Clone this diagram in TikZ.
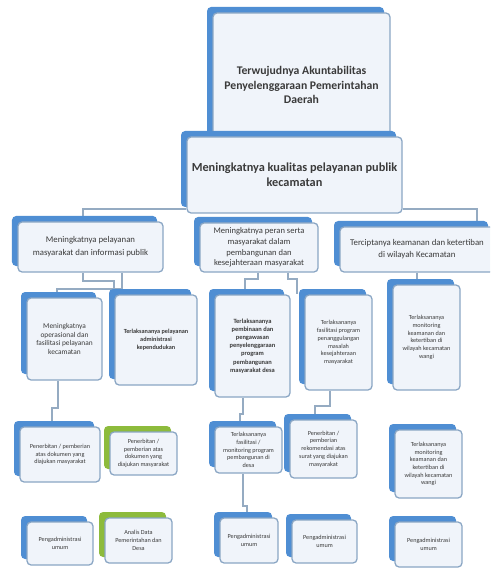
\documentclass[tikz,border=0pt]{standalone}
\usepackage{fontspec}
\setmainfont{Carlito}
\usetikzlibrary{positioning,shadows,backgrounds,calc}
\definecolor{backblue}{HTML}{4F8ED3}
\definecolor{backgreen}{HTML}{8DBB3C}
\definecolor{cardfill}{HTML}{F0F4FA}
\definecolor{cardline}{HTML}{8AA6C4}
\definecolor{linkgrey}{HTML}{95ABC2}
\definecolor{ink}{HTML}{3A3A3A}
\tikzset{
  face/.style={draw=cardline, line width=1.1pt, fill=cardfill, rounded corners=3.5pt, align=center, text=ink, inner sep=1pt},
  card/.style={face, general shadow={shadow xshift=-1.8mm, shadow yshift=1.8mm, fill=backblue}},
  gcard/.style={face, general shadow={shadow xshift=-1.8mm, shadow yshift=1.8mm, fill=backgreen}},
  wh/.style 2 args={minimum width=#1*0.03cm, minimum height=#2*0.03cm},
  big/.style={font=\fontsize{10}{12.5}\selectfont\bfseries},
  mid/.style={font=\fontsize{7.5}{10}\selectfont},
  tiny/.style={font=\fontsize{5.3}{6.6}\selectfont},
  tinyb/.style={font=\fontsize{5.3}{6.6}\selectfont\bfseries},
  conn/.style={draw=linkgrey, line width=1.6pt}
}

\begin{document}
\begin{tikzpicture}[x=0.03cm, y=-0.03cm]
\useasboundingbox (0,0) rectangle (490,570);
\clip (0,0) rectangle (490,570);
% goal
\node[card, wh={177}{144}, big] (top) at (301.5,85) {Terwujudnya Akuntabilitas\\Penyelenggaraan Pemerintahan\\Daerah};
\node[card, wh={215}{76}, big, font=\fontsize{10.5}{13}\selectfont\bfseries] (kual) at (294.5,175) {Meningkatnya kualitas pelayanan publik\\kecamatan};
% level 3
\node[card, wh={145}{50}, mid, font=\fontsize{7.5}{11}\selectfont] (l1) at (90.5,247) {Meningkatnya pelayanan\\masyarakat dan informasi publik};
\node[card, wh={118}{49}, mid, font=\fontsize{7.3}{9}\selectfont] (l2) at (259,247.5) {Meningkatnya peran serta\\masyarakat dalam\\pembangunan dan\\kesejahteraan masyarakat};
\node[card, wh={154}{45}, mid] (l3) at (417,249.5) {Terciptanya keamanan dan ketertiban\\di wilayah Kecamatan};
% level 4
\node[card, wh={75}{82}, font=\fontsize{6.3}{7.2}\selectfont] (a1) at (64.5,339) {Meningkatnya\\operasional dan\\fasilitasi pelayanan\\kecamatan};
\node[card, wh={82}{90}, tinyb] (a2) at (156,340) {Terlaksananya pelayanan\\administrasi\\kependudukan};
\node[card, wh={75}{102}, tinyb, font=\fontsize{5.5}{7}\selectfont\bfseries] (b1) at (252.5,346) {Terlaksananya\\pembinaan dan\\pengawasan\\penyelenggaraan\\program\\pembangunan\\masyarakat desa};
\node[card, wh={67}{95}, tiny] (b2) at (338.5,342.5) {Terlaksananya\\fasilitasi program\\penanggulangan\\masalah\\kesejahteraan\\masyarakat};
\node[card, wh={67}{105}, tiny] (c1) at (426.5,337.5) {Terlaksananya\\monitoring\\keamanan dan\\ketertiban di\\wilayah kecamatan\\wangi};
% level 5
\node[card, wh={80}{55}, tiny] (d1) at (60,454.5) {Penerbitan / pemberian\\atas dokumen yang\\diajukan masyarakat};
\node[gcard, wh={67}{43}, tiny] (d2) at (143.5,453.5) {Penerbitan /\\pemberian atas\\dokumen yang\\diajukan masyarakat};
\node[card, wh={67}{46}, tiny] (f1) at (248.5,450) {Terlaksananya\\fasilitasi /\\monitoring program\\pembangunan di\\desa};
\node[card, wh={67}{58}, tiny] (f2) at (323.5,449) {Penerbitan /\\pemberian\\rekomendasi atas\\surat yang diajukan\\masyarakat};
\node[card, wh={67}{68}, tiny] (f3) at (428.5,464) {Terlaksananya\\monitoring\\keamanan dan\\ketertiban di\\wilayah kecamatan\\wangi};
% level 6
\node[card, wh={66}{43}, tiny] (e1) at (60,543.5) {Pengadministrasi\\umum};
\node[gcard, wh={67}{45}, tiny] (e2) at (138.5,540.5) {Analis Data\\Pemerintahan dan\\Desa};
\node[card, wh={58}{45}, tiny] (g1) at (249,540.5) {Pengadministrasi\\umum};
\node[card, wh={65}{43}, tiny] (g2) at (324.5,541.5) {Pengadministrasi\\umum};
\node[card, wh={67}{45}, tiny] (g3) at (428.5,544.5) {Pengadministrasi\\umum};
% connectors
\begin{scope}[on background layer]
\draw[conn] ($(kual.south west)+(0,-5)$) -| ($(l1.north)+(-7.5,0)$);
\draw[conn] ($(kual.south east)+(0,-5)$) -| ($(l3.north)+(60,0)$);
\draw[conn] ($(l1.south)+(-7.5,0)$) -- ++(0,8) -| ($(a2.north)+(-42,0)$);
\draw[conn] ($(l1.south)+(31.5,0)$) -- ++(0,16) -| ($(a1.north)+(-7.5,0)$);
\draw[conn] ($(l2.south)+(-1,0)$) -- ++(0,6) -| ($(b1.north)+(-7.5,0)$);
\draw[conn] ($(l2.south)+(29,0)$) -- ++(0,6) -| ($(b2.north)+(-41.5,0)$);
\draw[conn] (l3.south) -- (l3.south |- c1.north);
\draw[conn] ($(a1.south)+(-6.5,0)$) -- ++(0,27) -| ($(d1.north)+(-8,0)$);
\draw[conn] ($(b1.south)+(-9.5,0)$) -- ++(0,16) -| ($(f1.north)+(-8.5,0)$);
\draw[conn] ($(b2.south)+(-8.5,0)$) -- ++(0,15) -| ($(f2.north)+(-8.5,0)$);
\draw[conn] ($(f1.south)+(-5.5,0)$) -- ++(0,32) -| ($(g1.north)+(-2,0)$);
\foreach \s/\t/\dx in {d1/e1/-8,c1/f3/-8.5,f2/g2/-8.5,f3/g3/-8.5}
  \draw[conn] ($(\s.south)+(\dx,0)$) -- ($(\s.south)+(\dx,0)$ |- \t.north);
\end{scope}
\end{tikzpicture}
\end{document}
